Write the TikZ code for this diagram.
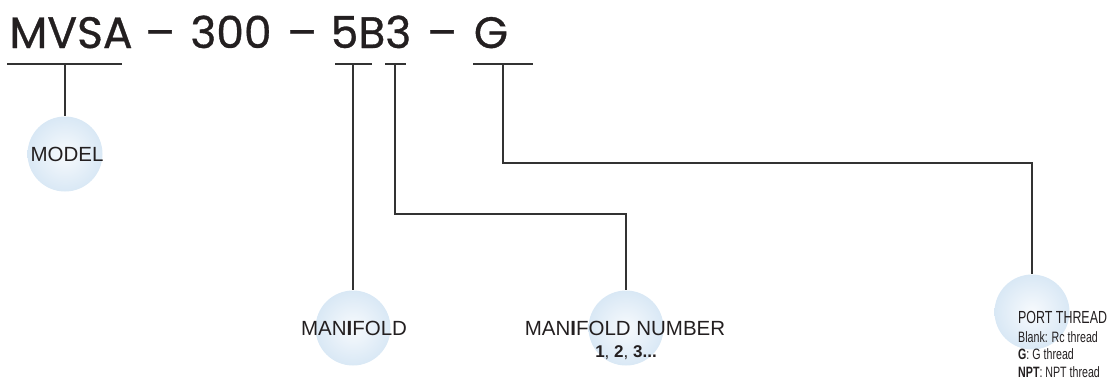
\documentclass[tikz,border=0pt]{standalone}
\usepackage{fontspec}
\setmainfont{Liberation Sans}
\newfontfamily\titre[FakeBold=0.8]{Poppins}
\newfontfamily\etroite[FakeStretch=0.71]{Liberation Sans}
\definecolor{codeC}{HTML}{231F20}
\definecolor{traitC}{HTML}{333333}
\definecolor{bouleC}{HTML}{F7FAFD}
\definecolor{bouleB}{HTML}{D9E8F5}
\tikzset{
	boule/.style={circle, minimum size=75pt, inner sep=0pt, shading=radial, inner color=bouleC, outer color=bouleB},
	trait/.style={draw=traitC, line width=1.4pt},
	code/.style={anchor=base, inner sep=0pt, text=codeC, font=\titre\fontsize{44}{44}\selectfont},
	etiquette/.style={anchor=base, inner sep=0pt, text=codeC, font=\fontsize{20.5}{24}\selectfont},
	petit/.style={anchor=base west, inner sep=0pt, text=codeC, font=\etroite\fontsize{15}{18}\selectfont}
}
\begin{document}
\begin{tikzpicture}[x=1pt, y=-1pt]
	\useasboundingbox (0,0) rectangle (1111,386);
	% le code
	\node[code] (mvsa) at (71,48) {MVSA};
	\node[code] (tiret1) at (160,48) {–};
	\node[code] (pression) at (231,48) {300};
	\node[code] (tiret2) at (302,48) {–};
	\node[code] (collecteur) at (371,48) {5B3};
	\node[code] (tiret3) at (442,48) {–};
	\node[code] (filetage) at (491,48) {G};
	% les boules
	\node[boule] (bModel) at (65,154) {};
	\node[boule] (bManif) at (353,328) {};
	\node[boule] (bNombre) at (626,328) {};
	\node[boule] (bPort) at (1032,312) {};
	% les textes
	\node[etiquette] (model) at (67,161) {MODEL};
	\node[etiquette] (manif) at (354,335) {MAN\textbf{I}FOLD};
	\node[etiquette] (manifNum) at (625,335) {MAN\textbf{I}FOLD NUMBER};
	\node[etiquette, font=\bfseries\fontsize{17}{20}\selectfont] (chiffres) at (626,357) {1\textmd{,} 2\textmd{,} 3...};
	\node[petit, font=\etroite\fontsize{17.5}{20}\selectfont] (port) at (1018,323) {PORT THREAD};
	\node[petit] (blank) at (1018,342) {Blank: Rc thread};
	\node[petit] (gFil) at (1018,359) {\textbf{G}: G thread};
	\node[petit] (nptFil) at (1018,377) {\textbf{NPT}: NPT thread};
	% les soulignements
	\coordinate (sModel) at (65,64);
	\coordinate (sManif) at (353,64);
	\coordinate (sNombre) at (395,64);
	\coordinate (sPort) at (503,64);
	\draw[trait] (7,64) -- (122,64);
	\draw[trait] (335,64) -- (372,64);
	\draw[trait] (385,64) -- (406,64);
	\draw[trait] (473,64) -- (533,64);
	% les liaisons
	\draw[trait] (sModel) -- (bModel.north);
	\draw[trait] (sManif) -- (bManif.north);
	\draw[trait] (sNombre) -- ++(0,150) -| (bNombre.north);
	\draw[trait] (sPort) -- ++(0,99) -| (bPort.north);
\end{tikzpicture}
\end{document}
